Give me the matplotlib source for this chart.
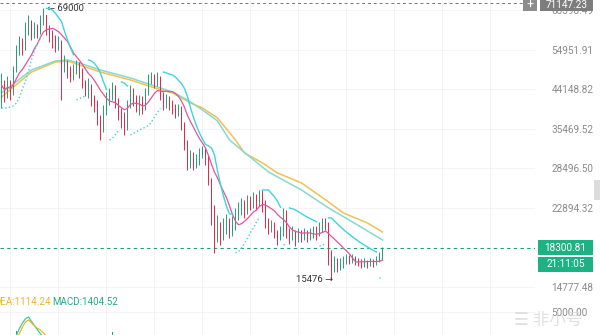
import numpy as np
import pandas as pd
import matplotlib
matplotlib.use('Agg')
import matplotlib.pyplot as plt
import matplotlib.patches as patches
from matplotlib.ticker import NullLocator

plt.rcParams['font.family'] = ['Roboto', 'DejaVu Sans']

# ---- price data (one candle per slot) ----
first_open = 41550
closes = [45150, 42720, 45910, 43440, 49060, 54810, 57300, 55420, 61240, 64020,
          59570, 61920, 60570, 64730, 66540, 61920, 59570, 57940, 56350, 57300,
          49600, 51290, 49060, 47720, 48520, 50720, 49060, 45910, 43920, 45150,
          42010, 40410, 37190, 35190, 38880, 41550, 42720, 44410, 41550, 38880,
          37610, 35570, 40410, 43920, 42010, 40410, 41550, 39750, 43440, 46420,
          47460, 45910, 46940, 42720, 40410, 41550, 40640, 39750, 38880, 39750,
          36180, 32380, 28990, 30140, 28990, 29800, 30640, 31500, 30140, 26670,
          21980, 19670, 20440, 19340, 20220, 21140, 20000, 20790, 21980, 22590,
          23230, 22340, 23880, 23360, 24150, 23620, 24550, 23230, 21140, 20440,
          20670, 19780, 19340, 20000, 21380, 20000, 19560, 20000, 19340, 19780,
          19560, 19890, 19560, 19780, 20220, 19780, 20440, 21140, 20790, 17120,
          16380, 16930, 16570, 16750, 16930, 17220, 17120, 17320, 17120, 16930,
          16750, 16840, 16750, 16930, 16840, 17120, 17510, 18300.81]
highs = [48250, 46420, 47460, 46420, 50160, 56350, 59240, 58590, 64020, 66540,
         64730, 64020, 63310, 66540, 69000, 65450, 62960, 61240, 59570, 59240,
         57940, 53310, 51860, 50160, 50720, 51860, 51290, 49600, 46420, 46940,
         45400, 42720, 41550, 38240, 40410, 43440, 44410, 45910, 45150, 42010,
         39750, 38880, 41550, 45150, 44410, 42720, 42720, 42480, 44410, 47990,
         48520, 47990, 48520, 47460, 43440, 42960, 42480, 41550, 40640, 40640,
         40190, 36780, 33290, 31500, 31160, 30810, 31840, 32200, 31840, 30640,
         26970, 23230, 21980, 21140, 21620, 22100, 21620, 21860, 22850, 23620,
         24150, 23880, 24550, 24410, 24960, 24690, 25240, 25240, 23880, 21620,
         21380, 21140, 20220, 20670, 22850, 22590, 20440, 20670, 20220, 20440,
         20220, 20440, 20220, 20440, 20670, 20670, 21140, 21620, 21620, 21140,
         18100, 17510, 17320, 17320, 17510, 17710, 17610, 17710, 17510, 17320,
         17220, 17320, 17120, 17320, 17220, 17510, 17900, 18450]
lows = [39750, 41090, 42010, 41550, 42720, 48520, 53310, 53310, 54810, 59570,
        57940, 58590, 58590, 59900, 62960, 59570, 57300, 55420, 54210, 54810,
        41550, 48520, 46940, 45910, 46420, 47990, 46940, 44410, 42480, 42010,
        40190, 38880, 36180, 33290, 34800, 38240, 40410, 41550, 39750, 37190,
        35570, 34230, 35190, 39750, 40190, 38880, 38240, 38450, 39310, 42720,
        45400, 44410, 44910, 41550, 39310, 39750, 39310, 38450, 37610, 38030,
        35190, 31500, 28190, 28510, 28190, 28510, 28990, 30140, 28990, 25950,
        20790, 17800, 18920, 18610, 19130, 19780, 19340, 19560, 20220, 21380,
        21980, 21620, 22100, 22590, 22850, 22590, 23100, 22340, 20440, 19780,
        20000, 19340, 18610, 19130, 19560, 19340, 18710, 19130, 18500, 18920,
        18920, 19130, 18920, 19130, 19340, 19130, 19560, 20000, 20220, 16660,
        15476, 16020, 16020, 16200, 16380, 16750, 16750, 16840, 16660, 16570,
        16380, 16480, 16380, 16570, 16480, 16660, 16930, 17120]

# long moving averages (candle index, value)
ma_slow_idx = [0, 10, 18, 22, 27, 33, 43, 50, 57, 63, 67, 72, 78, 81, 87, 92, 100, 109, 114, 122, 127]
ma_slow_val = [42250, 48520, 51290, 51570, 50160, 48520, 46420, 44660, 43200, 40870, 39750,
               37610, 33290, 30980, 29320, 27730, 26240, 23620, 22210, 21020, 19990]
ma_long_idx = [0, 10, 18, 22, 27, 33, 43, 50, 57, 62, 67, 72, 76, 80, 89, 100, 109, 117, 127]
ma_long_val = [43200, 49060, 51570, 51860, 50720, 49060, 46940, 45150, 43440, 41550, 39310,
               37000, 33290, 31500, 27880, 25240, 22850, 21140, 19130]

# MACD pane (only the first part is visible)
dif = [1800, 2100, 2400, 2700, 3000, 3310, 3800, 4200, 4500, 4630, 4300, 4000, 3675, 3400,
       3150, 2940, 2700, 2500, 2300, 2100, 1900]
dea = [1500, 1800, 2100, 2400, 2700, 3000, 3450, 3900, 4260, 4410, 4200, 3970, 3800, 3675,
       3450, 3230, 3000, 2800, 2600, 2400, 2200]
hist_idx = [5, 37]
hist_val = [3600, 3530]

y_ticks = [68398.49, 54951.91, 44148.82, 35469.52, 28496.50, 22894.32, 14777.48]
last_price = 18300.81
max_price = 71147.23
low_label = 15476
high_label = 69000

UP = '#2a9d74'
DOWN = '#e0294a'

closes = np.array(closes, float)
highs = np.array(highs, float)
lows = np.array(lows, float)
opens = np.concatenate([[first_open], closes[:-1]])
highs = np.maximum(highs, np.maximum(opens, closes))
lows = np.minimum(lows, np.minimum(opens, closes))
idx = np.arange(len(closes))


def psar(hi, lo, step=0.03, cap=0.2):
    n = len(hi)
    sar = np.empty(n)
    bull = np.empty(n, bool)
    up, af, ep = True, step, hi[0]
    sar[0], bull[0] = lo[0], True
    for i in range(1, n):
        s = sar[i - 1] + af * (ep - sar[i - 1])
        if up:
            s = min(s, lo[i - 1], lo[max(i - 2, 0)])
            if lo[i] < s:
                up, s, ep, af = False, ep, lo[i], step
            elif hi[i] > ep:
                ep, af = hi[i], min(af + step, cap)
        else:
            s = max(s, hi[i - 1], hi[max(i - 2, 0)])
            if hi[i] > s:
                up, s, ep, af = True, ep, hi[i], step
            elif lo[i] < ep:
                ep, af = lo[i], min(af + step, cap)
        sar[i], bull[i] = s, up
    return sar, bull


W, H = 600, 335
fig = plt.figure(figsize=(6, 3.35), dpi=100)
fig.patch.set_facecolor('white')

# main pane: pixel rows 0..297, columns 0..535
ax = fig.add_axes([0, 1 - 297 / H, 535 / W, 297 / H])
ax.set_yscale('log')
ax.set_ylim(13950, 72300)
ax.set_xlim(-0.5, (535 - 1.5) / 3)
for s in ax.spines.values():
    s.set_visible(False)
ax.yaxis.tick_right()
ax.set_yticks(y_ticks)
ax.set_yticklabels(['%.2f' % v for v in y_ticks])
ax.yaxis.set_minor_locator(NullLocator())
grid_px = np.arange(10, 535, 48)
ax.set_xticks((grid_px - 1.5) / 3)
ax.set_xticklabels([])
ax.tick_params(axis='both', length=0)
ax.tick_params(axis='y', pad=12, labelsize=7.2, labelcolor='#8a8a8a')
ax.grid(color='#f2f2f2', lw=0.6)

# candles
colors = np.where(closes >= opens, UP, DOWN)
ax.vlines(idx, lows, highs, colors=colors, lw=0.7, zorder=3)
bottom = np.minimum(opens, closes)
height = np.maximum(np.abs(closes - opens), bottom * 0.003)
ax.bar(idx, height, bottom=bottom, width=0.55, color=colors, lw=0, zorder=3)

# indicators
ma_fast = pd.Series(closes).rolling(10, min_periods=1).mean()
ax.plot(idx, ma_fast, color='#e0559c', lw=0.9, zorder=4)
sar, bull = psar(highs, lows)
start = 0
for i in range(1, len(idx) + 1):
    if i == len(idx) or bull[i] != bull[start]:
        ax.plot(idx[start:i], sar[start:i], color='#3fd3e0', lw=1.0,
                ls=':' if bull[start] else '-', zorder=4)
        start = i
ax.plot(ma_slow_idx, ma_slow_val, color='#f2c14e', lw=1.1, zorder=2)
ax.plot(ma_long_idx, ma_long_val, color='#86d9d0', lw=1.1, zorder=2)

ax.axhline(max_price, color='#777777', lw=0.7, ls=(0, (3, 3)))
ax.axhline(last_price, color='#1e9e78', lw=0.8, ls=(0, (3, 3)))

ax.annotate('\u2190 %d' % high_label, xy=(14, high_label), xytext=(2.5, 0),
            textcoords='offset points', ha='left', va='center', fontsize=6.8, color='#333333')
ax.annotate('%d \u2192' % low_label, xy=(110, low_label), xytext=(1.5, -1),
            textcoords='offset points', ha='right', va='center', fontsize=6.8, color='#333333')


def fig_y(val):
    return ax.transData.transform((0, val))[1] / fig.bbox.height


def tag(x0, x1, yc, h, text, fc, tc='white', fs=7.2):
    fig.patches.append(patches.Rectangle((x0 / W, yc - h / 2 / H), (x1 - x0) / W, h / H,
                                         transform=fig.transFigure, fc=fc, ec='none', zorder=5))
    fig.text((x0 + x1) / 2 / W, yc, text, ha='center', va='center', color=tc,
             fontsize=fs, zorder=6)


y_last = fig_y(last_price)
tag(538, 593, y_last, 15, '%.2f' % last_price, '#1db282')
tag(538, 593, y_last - 16.5 / H, 15, '21:11:05', '#1db282')
tag(523, 537, 1 - 5 / H, 12, '+', '#8c8c8c', fs=9)
tag(540, 593, 1 - 5 / H, 12, '%.2f' % max_price, '#7d7d7d')

# small scroll handle on the far right
fig.patches.append(patches.Rectangle((594 / W, 1 - 200 / H), 6 / W, 20 / H,
                                     transform=fig.transFigure, fc='#dcdcdc', ec='none'))

# MACD pane (mostly below the visible area)
axm = fig.add_axes([0, 1 - 420 / H, 535 / W, (420 - 297) / H])
axm.set_xlim(ax.get_xlim())
axm.set_ylim(-2940, 6100)
for s in axm.spines.values():
    s.set_visible(False)
axm.yaxis.tick_right()
axm.set_yticks([5000])
axm.set_yticklabels(['5000.00'])
axm.set_xticks((grid_px - 1.5) / 3)
axm.set_xticklabels([])
axm.tick_params(axis='both', length=0)
axm.tick_params(axis='y', pad=12, labelsize=7.2, labelcolor='#8a8a8a')
axm.grid(color='#f2f2f2', lw=0.6)
axm.bar(hist_idx, hist_val, width=0.55, color=UP, lw=0)
axm.plot(np.arange(len(dif)), dif, color='#3cc9a8', lw=0.9)
axm.plot(np.arange(len(dea)), dea, color='#f0b429', lw=0.9)

fig.text(-6 / W, 1 - 302 / H, 'DEA:1114.24', ha='left', va='center', fontsize=7, color='#f0b429')
fig.text(52 / W, 1 - 302 / H, 'MACD:1404.52', ha='left', va='center', fontsize=7, color='#1fae8a')

# faint site watermark in the lower right corner
fig.text(548 / W, 1 - 320 / H, '\u2630 非小号', ha='center', va='center', fontsize=12,
         color='#d9d9d9', alpha=0.8, family=['Noto Sans CJK SC', 'DejaVu Sans'], zorder=7)

fig.savefig('out.png', dpi=100)
